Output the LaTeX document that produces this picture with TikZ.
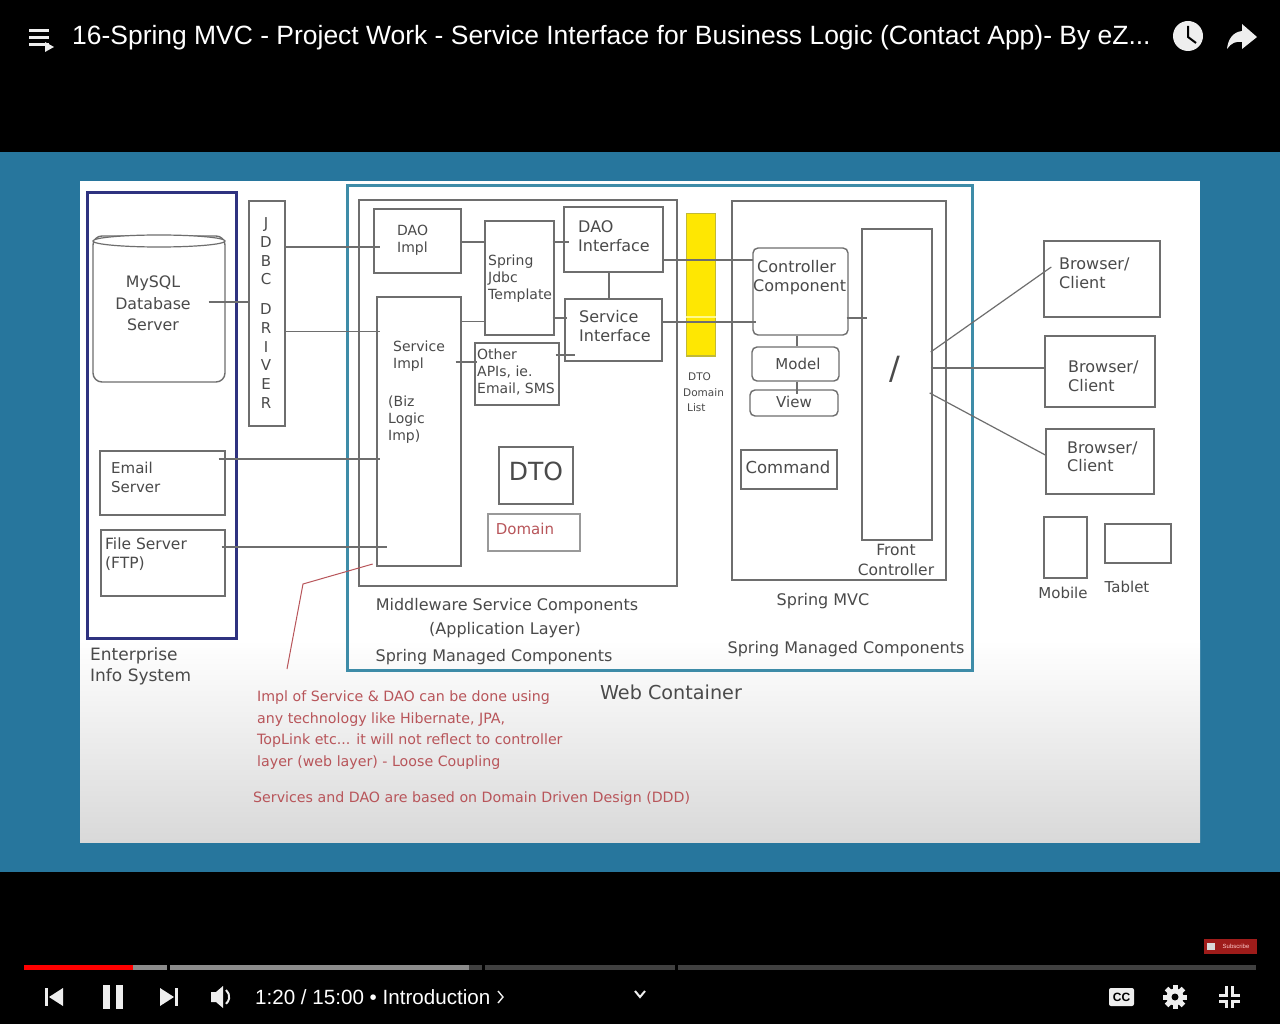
\documentclass[tikz,border=0pt]{standalone}
\usepackage{fontspec}
\setmainfont{DejaVu Sans}
\newfontfamily\playerfont{Liberation Sans}
\usetikzlibrary{arrows.meta,calc}
\definecolor{bandblue}{HTML}{27769D}
\definecolor{linegray}{HTML}{6E6E6E}
\definecolor{textgray}{HTML}{4A4A4A}
\definecolor{notered}{HTML}{B8555A}
\definecolor{enterblue}{HTML}{2F3280}
\definecolor{webteal}{HTML}{3E8CA8}
\definecolor{iconwhite}{HTML}{EEEEEE}
\definecolor{badgered}{HTML}{9E1C1A}
\newcommand{\fs}[2]{\fontsize{#1}{#2}\selectfont}
\tikzset{
	box/.style={draw=linegray, line width=1.4pt, inner sep=0pt},
	roundbox/.style={box, rounded corners=5pt},
	link/.style={draw=linegray, line width=1.2pt},
	lbl/.style={inner sep=0pt, anchor=west, align=left, text=textgray},
	mid/.style={inner sep=0pt, align=center, text=textgray},
	note/.style={lbl, text=notered, font=\fs{14.2}{21.4}},
	player/.style={inner sep=0pt, text=white, font=\playerfont\fs{20.6}{24}},
	icon/.style={fill=iconwhite, draw=none},
}
\begin{document}
\begin{tikzpicture}[x=1pt,y=-1pt]
	\useasboundingbox (0,0) rectangle (1280,1024);
	% player and slide background
	\fill[black] (0,0) rectangle (1280,1024);
	\fill[bandblue] (0,152) rectangle (1280,872);
	\fill[white] (80,181) rectangle (1200,640);
	\shade[top color=white, bottom color=black!15] (80,640) rectangle (1200,842);

	% enterprise info system
	\node[box, draw=enterblue, line width=3pt, minimum width=149pt, minimum height=445pt] (enterprise) at (161.5,415.5) {};
	\node[roundbox, rounded corners=9pt, minimum width=132pt, minimum height=146pt] (mysql) at (159,309) {};
	\draw[link, fill=white] (159,241) ellipse [x radius=66, y radius=6];
	\node[box, minimum width=36pt, minimum height=225pt] (jdbc) at (267,313.5) {};
	\node[box, minimum width=125pt, minimum height=64pt] (email) at (162.5,483) {};
	\node[box, minimum width=124pt, minimum height=66pt] (fileserver) at (163,563) {};
	\node[mid, font=\fs{15.8}{21.5}] (mysqltxt) at (153,303.5) {MySQL\\Database\\Server};
	\node[mid, font=\fs{15}{18.7}] (jdbctxt) at (266,313) {J\\D\\B\\C\\[11pt]D\\R\\I\\V\\E\\R};
	\node[lbl, font=\fs{15}{19}] (emailtxt) at (111,477.5) {Email\\Server};
	\node[lbl, font=\fs{15.5}{19.5}] (filetxt) at (105,554) {File Server\\(FTP)};
	\node[lbl, font=\fs{17}{21}] (enterprisetxt) at (90,666) {Enterprise\\Info System};

	% web container
	\node[box, draw=webteal, line width=3pt, minimum width=625pt, minimum height=484pt] (web) at (659.5,428) {};
	\node[box, minimum width=318pt, minimum height=386pt] (middleware) at (518,393) {};
	\node[box, minimum width=87pt, minimum height=64pt] (daoimpl) at (417.5,241) {};
	\node[box, minimum width=84pt, minimum height=269pt] (serviceimpl) at (419,431.5) {};
	\node[box, minimum width=69pt, minimum height=114pt] (springjdbc) at (519.5,278) {};
	\node[box, minimum width=99pt, minimum height=65pt] (daoiface) at (613.5,239.5) {};
	\node[box, minimum width=97pt, minimum height=62pt] (serviceiface) at (613.5,330) {};
	\node[box, minimum width=84pt, minimum height=62pt] (otherapis) at (517,374) {};
	\node[box, minimum width=74pt, minimum height=57pt] (dto) at (536,475.5) {};
	\node[box, draw=black!40, minimum width=92pt, minimum height=37pt] (domain) at (534,532.5) {};
	\node[draw=black!15!yellow!85!black, fill=yellow!90!orange, line width=1pt, minimum width=29pt, minimum height=142pt, inner sep=0pt] (dtolist) at (700.5,285) {};
	\draw[yellow!45!white, line width=1.2pt] ([yshift=-32pt]dtolist.west) -- ([yshift=-32pt]dtolist.east);
	\node[lbl, font=\fs{14}{17}] (daoimpltxt) at (397,240.5) {DAO\\Impl};
	\node[lbl, font=\fs{14}{17}] (serviceimpltxt) at (393,356.5) {Service\\Impl};
	\node[lbl, font=\fs{14}{17}] (biztxt) at (388,420) {(Biz\\Logic\\Imp)};
	\node[lbl, font=\fs{14}{17}] (springtxt) at (488,279) {Spring\\Jdbc\\Template};
	\node[lbl, font=\fs{16}{19}] (daoifacetxt) at (578,236.5) {DAO\\Interface};
	\node[lbl, font=\fs{16}{19}] (serviceifacetxt) at (579,326.5) {Service\\Interface};
	\node[lbl, font=\fs{14}{17}] (otherapistxt) at (477,372) {Other\\APIs, ie.\\Email, SMS};
	\node[mid, font=\fs{25}{30}] (dtotxt) at (536,471) {DTO};
	\node[mid, text=notered, font=\fs{15}{18}] (domaintxt) at (525,529) {Domain};
	\node[lbl, font=\fs{10.5}{15.5}] (dtolisttxt) at (683,392.5) {\hspace*{5pt}DTO\\Domain\\\hspace*{4pt}List};

	% spring mvc
	\node[box, minimum width=214pt, minimum height=379pt] (mvc) at (839,390.5) {};
	\node[roundbox, minimum width=95pt, minimum height=87pt] (controller) at (800.5,291.5) {};
	\node[roundbox, minimum width=87pt, minimum height=34pt] (model) at (795.5,364) {};
	\node[roundbox, minimum width=88pt, minimum height=26pt] (view) at (794,403) {};
	\node[box, minimum width=96pt, minimum height=39pt] (command) at (789,469.5) {};
	\node[box, minimum width=70pt, minimum height=311pt] (front) at (897,384.5) {};
	\node[lbl, font=\fs{16}{19}] (controllertxt) at (757,277.5) {Controller\\[-.5pt]\hspace*{-4pt}Component};
	\node[mid, font=\fs{15}{18}] (modeltxt) at (798,364) {Model};
	\node[mid, font=\fs{15}{18}] (viewtxt) at (794,402) {View};
	\node[mid, font=\fs{16.5}{20}] (commandtxt) at (788,467) {Command};
	\node[mid, font=\fs{32}{36}] (slashtxt) at (895,369) {/};
	\node[mid, font=\fs{15.5}{20}] (fronttxt) at (896,560) {Front\\Controller};

	% clients
	\node[box, minimum width=116pt, minimum height=76pt] (browsera) at (1102,279) {};
	\node[box, minimum width=110pt, minimum height=71pt] (browserb) at (1100,371.5) {};
	\node[box, minimum width=108pt, minimum height=65pt] (browserc) at (1100,461.5) {};
	\node[box, minimum width=43pt, minimum height=61pt] (mobile) at (1065.5,547.5) {};
	\node[box, minimum width=66pt, minimum height=39pt] (tablet) at (1138,543.5) {};
	\node[lbl, font=\fs{16}{19}] (browseratxt) at (1059,273.5) {Browser/\\Client};
	\node[lbl, font=\fs{16}{19}] (browserbtxt) at (1068,376) {Browser/\\Client};
	\node[lbl, font=\fs{16}{18.5}] (browserctxt) at (1067,457) {Browser/\\Client};
	\node[mid, font=\fs{15}{18}] (mobiletxt) at (1063,593) {Mobile};
	\node[mid, font=\fs{15}{18}] (tablettxt) at (1127,587) {Tablet};

	% connectors
	\draw[link] ([shift={(-17,-7)}]mysql.east) -- ([shift={(1,-11.5)}]jdbc.west);
	\draw[link] ([shift={(0,-66.5)}]jdbc.east) -- ([shift={(7,6)}]daoimpl.west);
	\draw[link] ([shift={(0,18)}]jdbc.east) -- ([shift={(4,-100)}]serviceimpl.west);
	\draw[link] ([shift={(-7,-24)}]email.east) -- ([shift={(4,27.5)}]serviceimpl.west);
	\draw[link] ([shift={(-4,-16)}]fileserver.east) -- ([shift={(11,115.5)}]serviceimpl.west);
	\draw[link] ([shift={(0,1)}]daoimpl.east) -- ([shift={(0,-36)}]springjdbc.west);
	\draw[link] ([shift={(0,-110)}]serviceimpl.east) -- ([shift={(0,43.5)}]springjdbc.west);
	\draw[link] ([shift={(-2,-36)}]springjdbc.east) -- ([shift={(6,2.5)}]daoiface.west);
	\draw[link] ([shift={(-2,40)}]springjdbc.east) -- ([shift={(3,-12)}]serviceiface.west);
	\draw[link] ([shift={(-6,-69.5)}]serviceimpl.east) -- ([shift={(3,-12)}]otherapis.west);
	\draw[link] ([shift={(-4,-19)}]otherapis.east) -- ([shift={(11,25)}]serviceiface.west);
	\draw[link] ([xshift=-4.5pt]daoiface.south) -- ([xshift=-4.5pt]serviceiface.north);
	\draw[link] ([yshift=-20.5pt]daoiface.east) -- ([shift={(1,-31.5)}]controller.west);
	\draw[link] ([shift={(0,-8)}]serviceiface.east) -- ([shift={(4,30.5)}]controller.west);
	\draw[link] ([xshift=-3.5pt]controller.south) -- ([xshift=1.5pt]model.north);
	\draw[link] ([xshift=1.5pt]model.south) -- ([xshift=3pt,yshift=-5pt]view.north);
	\draw[link] ([shift={(-2,26.5)}]controller.east) -- ([shift={(6,-66.5)}]front.west);
	\draw[link] ([shift={(-2,-32.5)}]front.east) -- ([shift={(8,-12)}]browsera.west);
	\draw[link] ([shift={(-2,-16.5)}]front.east) -- ([shift={(2,-3.5)}]browserb.west);
	\draw[link] ([shift={(-3,8.5)}]front.east) -- ([shift={(0,-6.5)}]browserc.west);

	% remark about loose coupling
	\coordinate (notebend) at (303,584);
	\coordinate (notefoot) at (287,669);
	\draw[draw=notered, line width=1pt] ([shift={(-89,132.5)}]serviceimpl.east) -- (notebend) -- (notefoot);

	% captions
	\node[mid, font=\fs{16}{18}] (middlewaretxt) at (507,606) {Middleware Service Components};
	\node[mid, font=\fs{16}{18}] (applayertxt) at (505,630) {(Application Layer)};
	\node[mid, font=\fs{16}{18}] (managedatxt) at (494,657) {Spring Managed Components};
	\node[mid, font=\fs{16}{18}] (mvctxt) at (823,601) {Spring MVC};
	\node[mid, font=\fs{16}{18}] (managedbtxt) at (846,649) {Spring Managed Components};
	\node[mid, font=\fs{19.2}{22}] (webtxt) at (671,692) {Web Container};
	\node[note] (impltxt) at (257,730) {Impl of Service \& DAO can be done using\\any technology like Hibernate, JPA,\\TopLink etc... it will not reflect to controller\\layer (web layer) - Loose Coupling};
	\node[note] (dddtxt) at (253,799) {Services and DAO are based on Domain Driven Design (DDD)};

	% top bar
	\foreach \y in {29,36,43} {
		\fill[icon] (29,\y) rectangle ++(20,3.5);
	}
	\fill[iconwhite] (45,42) -- (54,47) -- (45,52) -- cycle;
	\node[player, anchor=west, font=\playerfont\fs{26.45}{30}] (title) at (72,38) {16-Spring MVC - Project Work - Service Interface for Business Logic (Contact App)- By eZ...};
	\fill[icon] (1188,36) circle (15);
	\draw[black, line width=2pt] (1188,26) -- (1188,37) -- (1196,43);
	\fill[icon] (1242,24) -- (1257,37) -- (1242,49) -- (1242,42) .. controls (1236,41) and (1231,43) .. (1227,49) .. controls (1228,39) and (1233,32) .. (1242,31) -- cycle;

	% progress bar
	\fill[red] (24,965) rectangle (133,970);
	\fill[black!45] (133,965) rectangle (167,970);
	\fill[black!45] (170,965) rectangle (469,970);
	\fill[black!75] (469,965) rectangle (482,970);
	\fill[black!75] (485,965) rectangle (675,970);
	\fill[black!75] (678,965) rectangle (1256,970);
	\fill[badgered] (1204,939) rectangle (1257,954);
	\fill[white!85!black] (1207,943) rectangle (1215,950);
	\node[player, text=white!80!red, font=\playerfont\fs{6}{7}] (subscribe) at (1236,946.5) {Subscribe};

	% player controls
	\fill[icon] (45,988) rectangle (48,1006);
	\fill[icon] (63,988) -- (49,997) -- (63,1006) -- cycle;
	\fill[icon] (103,985) rectangle (110,1009);
	\fill[icon] (116,985) rectangle (123,1009);
	\fill[icon] (160,988) -- (174,997) -- (160,1006) -- cycle;
	\fill[icon] (175,988) rectangle (178,1006);
	\fill[icon] (211,992) -- (216,992) -- (223,986) -- (223,1008) -- (216,1002) -- (211,1002) -- cycle;
	\draw[iconwhite, line width=2pt] (226,990) arc [start angle=-50, end angle=50, radius=9];
	\node[player, anchor=west] (timetxt) at (255,997) {1:20 / 15:00 \textbullet{} Introduction};
	\draw[iconwhite, line width=1.4pt] (498,991) -- (503,997) -- (498,1003);
	\draw[iconwhite, line width=2pt] (635,991) -- (640,997) -- (645,991);
	\fill[icon, rounded corners=2pt] (1109,988) rectangle (1134,1006);
	\node[player, text=black, font=\playerfont\bfseries\fs{12}{14}] (cctxt) at (1121.5,997) {CC};
	\foreach \a in {0,45,...,315} {
		\fill[icon, shift={(1175,997)}, rotate=\a] (-2.5,-12) rectangle (2.5,0);
	}
	\fill[icon] (1175,997) circle (8.5);
	\fill[black] (1175,997) circle (3.5);
	\draw[iconwhite, line width=3pt] (1219,995) -- (1226,995) -- (1226,986);
	\draw[iconwhite, line width=3pt] (1240,995) -- (1232,995) -- (1232,986);
	\draw[iconwhite, line width=3pt] (1219,1001) -- (1226,1001) -- (1226,1008);
	\draw[iconwhite, line width=3pt] (1240,1001) -- (1232,1001) -- (1232,1008);
\end{tikzpicture}
\end{document}
